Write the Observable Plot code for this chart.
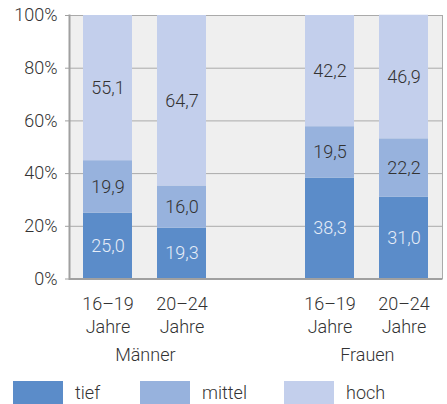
<!DOCTYPE html>
<html>
<head>
<meta charset="utf-8">
<script src="https://cdn.jsdelivr.net/npm/d3@7"></script>
<script src="https://cdn.jsdelivr.net/npm/@observablehq/plot@0.6"></script>
<style>
  body { margin: 0; background: #fff; font-family: Roboto, sans-serif; font-weight: 300; }
  #legend { position: relative; height: 23px; margin-top: 6px; font-size: 18px; color: #333; }
  .sw { display: inline-block; width: 50px; height: 23px; }
  .lab { margin-left: 12px; }
</style>
</head>
<body>
<div id="chart"></div>
<div id="legend"></div>
<script>
const categories = ["M16", "M20", "gap", "F16", "F20"];
const tickLabels = {M16: "16–19\nJahre", M20: "20–24\nJahre", F16: "16–19\nJahre", F20: "20–24\nJahre", gap: ""};
const groups = ["Männer", "Frauen"];
const groupFirstCategory = ["M16", "F16"];
const levels = ["tief", "mittel", "hoch"];
const colors = ["#5b8cc9", "#97b2dd", "#c3cfec"];
const tief   = [25.0, 19.3, 38.3, 31.0];
const mittel = [19.9, 16.0, 19.5, 22.2];
const hoch   = [55.1, 64.7, 42.2, 46.9];
const barCategories = ["M16", "M20", "F16", "F20"];
const yTicks = [0, 20, 40, 60, 80, 100];

const series = {tief, mittel, hoch};
const data = [];
for (const lvl of levels) {
  barCategories.forEach((c, i) => data.push({cat: c, level: lvl, value: series[lvl][i]}));
}
const groupData = groups.map((g, i) => ({group: g, cat: groupFirstCategory[i]}));

const W = 447, H = 375;
const marginLeft = 69, marginRight = 5;
const paddingInner = 0.343, paddingOuter = 0.17;
const step = (W - marginLeft - marginRight) / (categories.length - paddingInner + 2 * paddingOuter);
const FS = 18;

const chart = Plot.plot({
  width: W,
  height: H,
  marginLeft,
  marginRight,
  marginTop: 15,
  marginBottom: H - 278.5,
  style: {fontFamily: "Roboto, sans-serif", fontWeight: 300, fontSize: FS + "px", color: "#333", background: "#fff"},
  x: {domain: categories, paddingInner, paddingOuter, label: null},
  y: {domain: [0, 100], ticks: yTicks, label: null},
  color: {domain: levels, range: colors},
  marks: [
    Plot.frame({fill: "#efefef", stroke: "#aaa"}),
    Plot.gridY(yTicks, {stroke: "#aaa", strokeOpacity: 1}),
    Plot.barY(data, Plot.stackY({x: "cat", y: "value", fill: "level", order: null})),
    Plot.text(data, Plot.stackY({
      x: "cat", y: "value", z: "level", order: null,
      text: d => d.value.toFixed(1).replace(".", ","),
      fill: d => d.level === "tief" ? "#e6edf8" : "#333",
      fontSize: FS
    })),
    Plot.frame({anchor: "left", stroke: "#a0a0a0", strokeWidth: 2}),
    Plot.ruleY([0], {stroke: "#a0a0a0", strokeWidth: 2}),
    Plot.axisY(yTicks, {tickFormat: d => d + "%", tickSize: 4, tickPadding: 8, stroke: "#a0a0a0", fontSize: FS, fill: "#333"}),
    Plot.axisX(barCategories, {tickFormat: d => tickLabels[d], tickSize: 0, tickPadding: 14, lineHeight: 1.3, fontSize: FS, fill: "#333"}),
    Plot.text(groupData, {x: "cat", text: "group", frameAnchor: "bottom", dx: step / 2, dy: 69, fontSize: FS, fill: "#333", lineAnchor: "top"})
  ]
});
document.getElementById("chart").appendChild(chart);

const legend = document.getElementById("legend");
const legendOffsets = [13, 140, 284];
levels.forEach((lvl, i) => {
  const item = document.createElement("span");
  item.style.display = "flex";
  item.style.alignItems = "center";
  item.style.position = "absolute";
  item.style.top = "0px";
  item.style.left = legendOffsets[i] + "px";
  item.innerHTML = `<span class="sw" style="background:${colors[i]}"></span><span class="lab">${lvl}</span>`;
  legend.appendChild(item);
});
</script>
</body>
</html>
